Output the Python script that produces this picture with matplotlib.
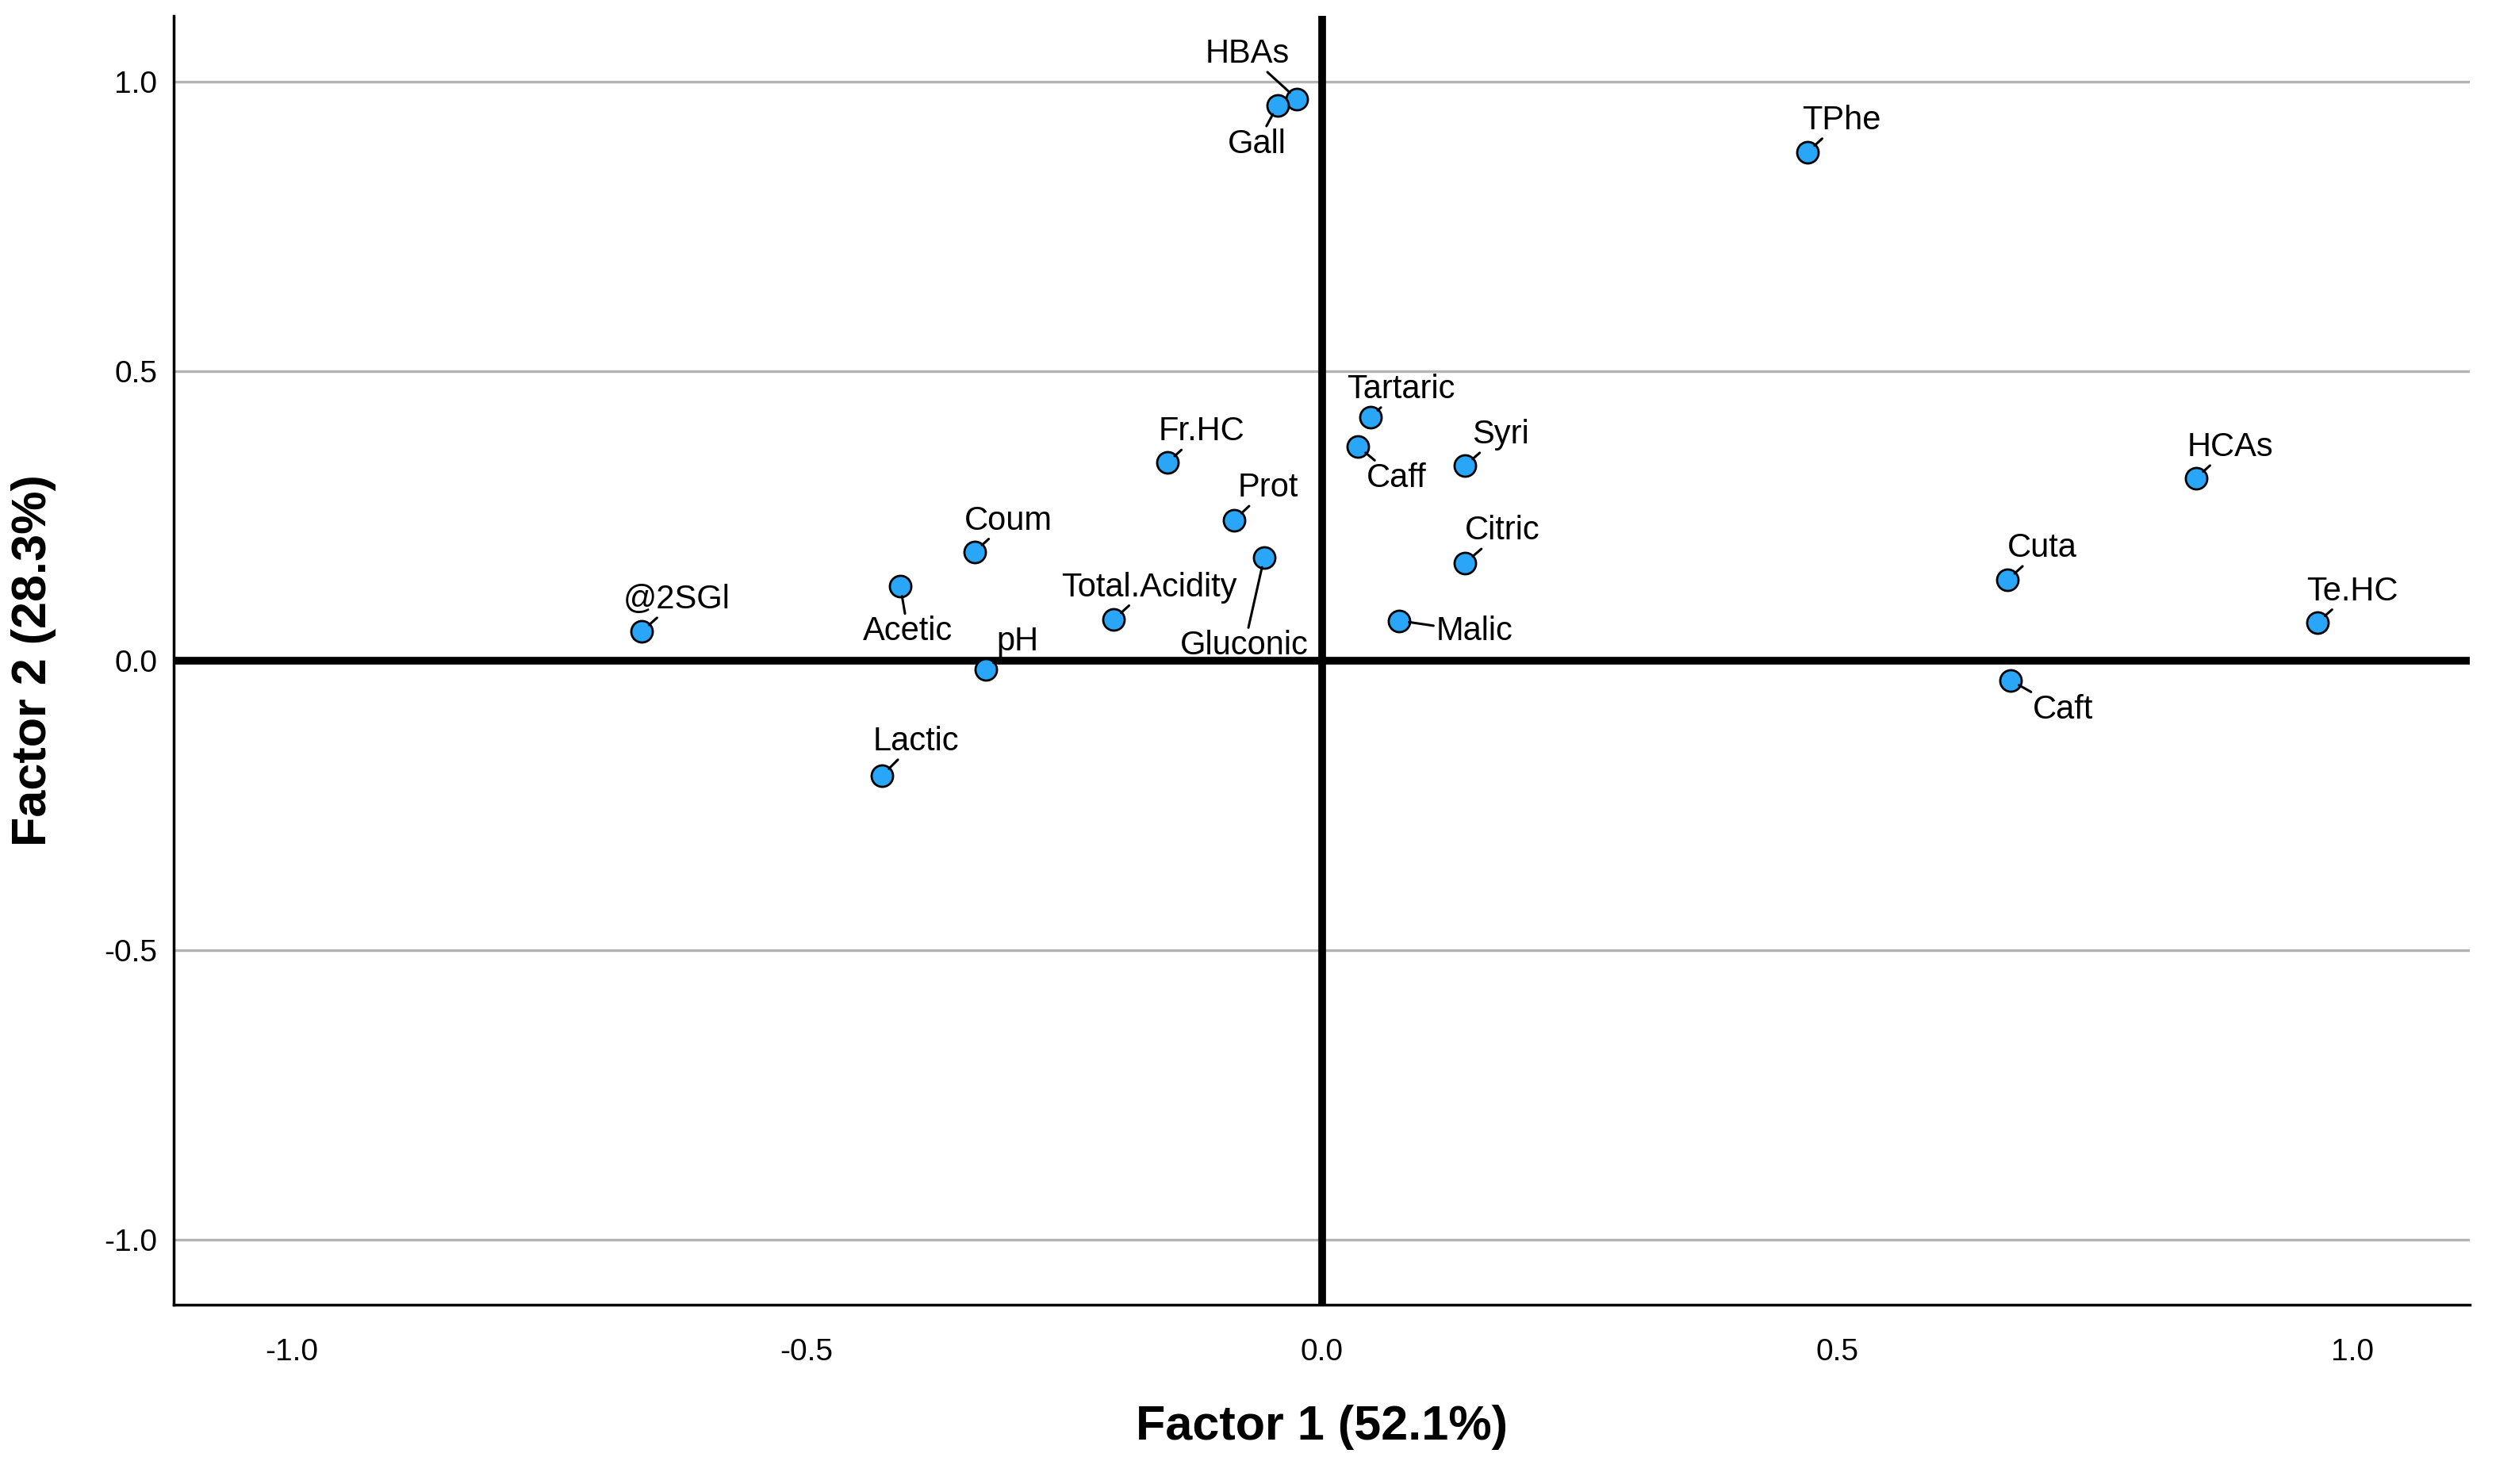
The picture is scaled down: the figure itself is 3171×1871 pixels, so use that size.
import numpy as np
import matplotlib
matplotlib.use("Agg")
import matplotlib.pyplot as plt

plt.rcParams['font.family'] = ['Liberation Sans', 'DejaVu Sans']

# loadings
variables = ['HBAs', 'Gall', 'TPhe', 'Tartaric', 'Caff', 'Syri', 'Fr.HC', 'Prot',
             'Coum', 'Citric', 'Gluconic', 'Acetic', '@2SGl', 'Total.Acidity',
             'Malic', 'pH', 'Lactic', 'HCAs', 'Cuta', 'Te.HC', 'Caft']
factor1 = [-0.024, -0.043, 0.471, 0.047, 0.035, 0.139, -0.150, -0.085,
           -0.337, 0.139, -0.056, -0.409, -0.660, -0.202,
           0.075, -0.326, -0.427, 0.848, 0.665, 0.966, 0.668]
factor2 = [0.970, 0.959, 0.878, 0.421, 0.370, 0.337, 0.342, 0.243,
           0.188, 0.169, 0.178, 0.128, 0.050, 0.071,
           0.069, -0.015, -0.199, 0.315, 0.139, 0.066, -0.034]

tick_values = [-1.0, -0.5, 0.0, 0.5, 1.0]
tick_labels = ['-1.0', '-0.5', '0.0', '0.5', '1.0']

# label offsets in points (layout only)
label_offsets = {
    'HBAs': (-45, 41), 'Gall': (-19, -35), 'TPhe': (31, 29), 'Tartaric': (28, 25),
    'Caff': (35, -29), 'Syri': (32, 28), 'Fr.HC': (31, 28), 'Prot': (31, 29),
    'Coum': (31, 28), 'Citric': (34, 29), 'Gluconic': (-18, -80), 'Acetic': (7, -41),
    '@2SGl': (32, 29), 'Total.Acidity': (32, 29), 'Malic': (68, -10), 'pH': (29, 25),
    'Lactic': (31, 31), 'HCAs': (31, 28), 'Cuta': (32, 29), 'Te.HC': (32, 28),
    'Caft': (48, -27),
}

fig = plt.figure(figsize=(31.71, 18.71), dpi=100)
ax = fig.add_axes([0.0691, 0.1208, 0.9130, 0.8685])

ax.set_xlim(-1.114, 1.114)
ax.set_ylim(-1.113, 1.114)

ax.set_xticks(tick_values)
ax.set_xticklabels(tick_labels)
ax.set_yticks(tick_values)
ax.set_yticklabels(tick_labels)
ax.tick_params(axis='both', length=0, labelsize=28, colors='black')
ax.tick_params(axis='x', pad=30)
ax.tick_params(axis='y', pad=15)

ax.yaxis.grid(True, color='#b3b3b3', linewidth=2.4, zorder=0)
ax.xaxis.grid(False)
ax.set_axisbelow(True)

for side in ['top', 'right']:
    ax.spines[side].set_visible(False)
for side in ['left', 'bottom']:
    ax.spines[side].set_linewidth(2.5)
    ax.spines[side].set_color('black')

ax.axhline(0, color='black', linewidth=7, zorder=1)
ax.axvline(0, color='black', linewidth=7, zorder=1)

ax.scatter(factor1, factor2, s=380, color='#29a6f7', edgecolor='black',
           linewidth=2.0, zorder=3)

for name, x, y in zip(variables, factor1, factor2):
    dx, dy = label_offsets[name]
    ax.annotate(name, xy=(x, y), xytext=(dx, dy), textcoords='offset points',
                ha='center', va='center', fontsize=30, zorder=4,
                arrowprops=dict(arrowstyle='-', color='black', lw=2.2,
                                shrinkA=0, shrinkB=9))

ax.set_xlabel('Factor 1 (52.1%)', fontsize=44, fontweight='bold', va='center')
ax.xaxis.set_label_coords(0.5, -0.095)
ax.set_ylabel('Factor 2 (28.3%)', fontsize=44, fontweight='bold', va='center')
ax.yaxis.set_label_coords(-0.061, 0.5)

fig.savefig('out.png', dpi=100)
